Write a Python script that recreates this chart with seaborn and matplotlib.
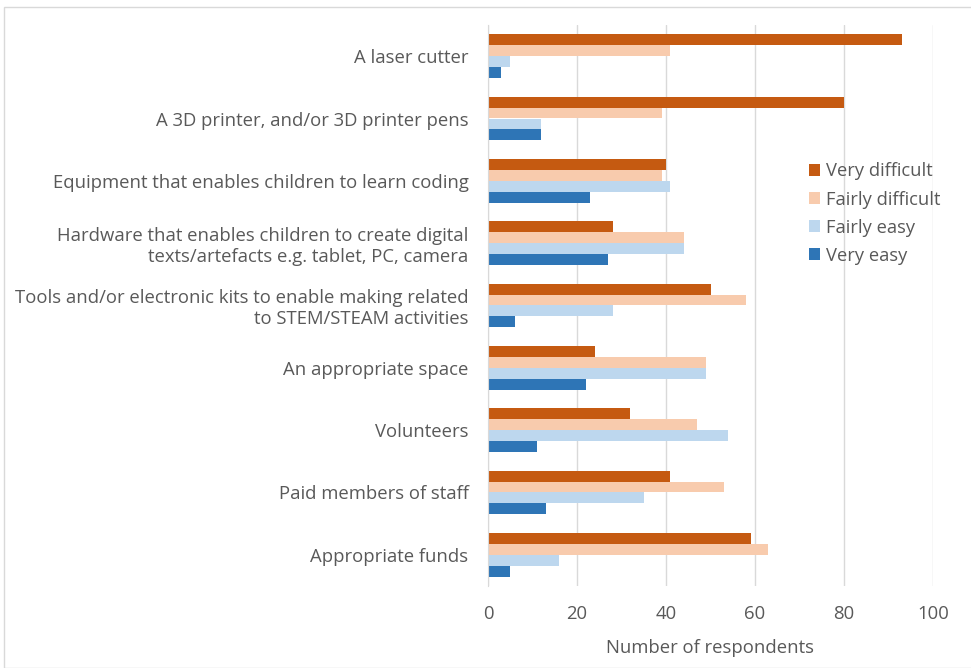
import matplotlib
matplotlib.use("Agg")
import matplotlib.pyplot as plt
import pandas as pd
import seaborn as sns
from matplotlib.patches import Rectangle

# Categorias e valores
itens = [
    "A laser cutter",
    "A 3D printer, and/or 3D printer pens",
    "Equipment that enables children to learn coding",
    "Hardware that enables children to create digital\ntexts/artefacts e.g. tablet, PC, camera",
    "Tools and/or electronic kits to enable making related\nto STEM/STEAM activities",
    "An appropriate space",
    "Volunteers",
    "Paid members of staff",
    "Appropriate funds",
]
niveis = ["Very difficult", "Fairly difficult", "Fairly easy", "Very easy"]
muito_dificil = [93, 80, 40, 28, 50, 24, 32, 41, 59]
pouco_dificil = [41, 39, 39, 44, 58, 49, 47, 53, 63]
pouco_facil = [5, 12, 41, 44, 28, 49, 54, 35, 16]
muito_facil = [3, 12, 23, 27, 6, 22, 11, 13, 5]

cores = ["#C55A11", "#F8CBAD", "#BDD7EE", "#2E75B6"]
cinza = "#595959"

# Monta a tabela longa para o seaborn
df = pd.DataFrame({"item": itens, niveis[0]: muito_dificil, niveis[1]: pouco_dificil,
                   niveis[2]: pouco_facil, niveis[3]: muito_facil})
df = df.melt(id_vars="item", var_name="nivel", value_name="n")

sns.set_style("white")
plt.rcParams["font.family"] = ["Open Sans", "DejaVu Sans"]

fig = plt.figure(figsize=(9.71, 6.68), dpi=100)
ax = fig.add_axes([488 / 971, 1 - 586 / 668, (933 - 488) / 971, (586 - 25) / 668])

sns.barplot(data=df, x="n", y="item", hue="nivel", order=itens, hue_order=niveis,
            palette=cores, orient="h", width=0.7, ax=ax, saturation=1, legend=True,
            linewidth=0, edgecolor="none")

ax.set_xlim(0, 100)
ax.set_ylim(len(itens) - 0.5, -0.5)
ax.set_xticks(range(0, 101, 20))
ax.grid(axis="x", color="#D9D9D9", linewidth=1)
ax.set_axisbelow(True)
for lado in ["top", "right", "bottom"]:
    ax.spines[lado].set_visible(False)
ax.spines["left"].set_color("#D9D9D9")
ax.tick_params(axis="y", length=0, pad=14, labelsize=13.3, labelcolor=cinza)
ax.tick_params(axis="x", length=0, pad=14, labelsize=13.3, labelcolor=cinza)
ax.set_ylabel("")
ax.set_xlabel("Number of respondents", fontsize=13.3, color=cinza, labelpad=11)

# Legenda no estilo Excel
leg = ax.legend(loc="upper left", bbox_to_anchor=(792 / 971, 1 - 146 / 668),
                bbox_transform=fig.transFigure, frameon=False, fontsize=13.2,
                handlelength=0.65, handleheight=0.65, handletextpad=0.3, labelspacing=0.55)
for t in leg.get_texts():
    t.set_color(cinza)

# Moldura cinza em volta da figura
fig.patches.append(Rectangle((4 / 971, 0), 1, 1 - 7 / 668, transform=fig.transFigure,
                             fill=False, edgecolor="#D9D9D9", linewidth=1))

fig.savefig("out.png", dpi=100)
